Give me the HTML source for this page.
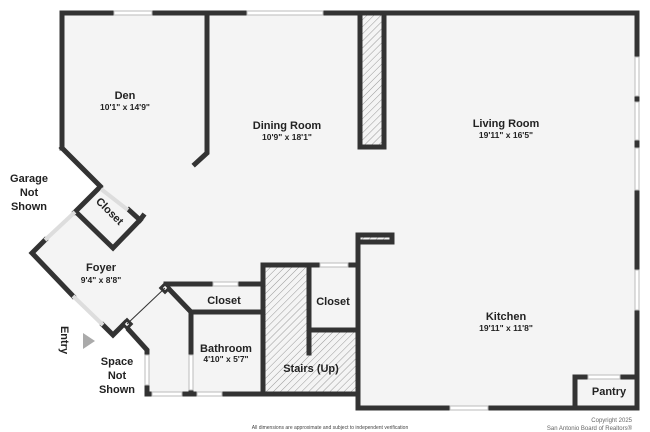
<!DOCTYPE html>
<html><head><meta charset="utf-8"><style>
html,body{margin:0;padding:0;background:#fff;}
svg{display:block;}
text{font-family:"Liberation Sans",sans-serif;fill:#222;}
.t{font-size:11px;font-weight:bold;}
.s{font-size:8.5px;font-weight:bold;}
</style></head><body>
<svg width="650" height="432" viewBox="0 0 650 432" xmlns="http://www.w3.org/2000/svg">
<defs>
<pattern id="h" width="5" height="5" patternUnits="userSpaceOnUse" patternTransform="rotate(45)">
<rect width="5" height="5" fill="#f4f4f4"/><line x1="0" y1="0" x2="0" y2="5" stroke="#999" stroke-width="1"/>
</pattern>
</defs>
<polygon points="62,13 637,13 637,408 358,408 358,394 147,394 147,350 127,327 113,335 32,253 75,212 100,187 62,148" fill="#f4f4f4"/>
<rect x="263" y="265" width="46" height="129" fill="url(#h)"/>
<rect x="309" y="330" width="49" height="64" fill="url(#h)"/>
<rect x="360" y="13" width="25" height="135" fill="url(#h)"/>
<rect x="360" y="235" width="32" height="8" fill="url(#h)"/>
<g stroke="#333" stroke-width="5" fill="none" stroke-linecap="square">
<!-- top wall -->
<polyline points="62,148 62,13 113,13"/>
<line x1="152" y1="13" x2="247" y2="13"/>
<line x1="323" y1="13" x2="637" y2="13"/>
<!-- right wall -->
<line x1="637" y1="13" x2="637" y2="57"/>
<line x1="637" y1="96" x2="637" y2="102"/>
<line x1="637" y1="140" x2="637" y2="148"/>
<line x1="637" y1="190" x2="637" y2="270"/>
<line x1="637" y1="310" x2="637" y2="408"/>
<!-- bottom -->
<polyline points="450,408 358,408 358,235 392,235 392,242 360,242"/>
<line x1="488" y1="408" x2="637" y2="408"/>
<polyline points="575,408 575,377 588,377"/>
<line x1="620" y1="377" x2="637" y2="377"/>
<!-- fireplace -->
<rect x="360" y="13" width="24" height="134"/>
<!-- den divider -->
<polyline points="207,13 207,153 195,164"/>
<!-- den diag -->
<line x1="62" y1="148" x2="100" y2="186"/>
<!-- closet -->
<polyline points="100,187 75,212"/>
<polyline points="76,212 113,248 140,220 129,210"/>
<line x1="140" y1="220" x2="143" y2="216"/>
<!-- foyer -->
<polyline points="45,240 32,253 73,296"/>
<polyline points="103,325 113,335 125,323"/>
<polyline points="129,330 147,350 147,355"/>
<line x1="147" y1="385" x2="147" y2="394"/>
<line x1="147" y1="394" x2="152" y2="394"/>
<line x1="182" y1="394" x2="197" y2="394"/>
<line x1="222" y1="394" x2="358" y2="394"/>
<!-- closet/bath -->
<polyline points="168,288 191,312 262,312"/>
<line x1="166" y1="284" x2="213" y2="284"/>
<line x1="238" y1="284" x2="262" y2="284"/>
<line x1="191" y1="312" x2="191" y2="355"/>
<line x1="191" y1="390" x2="191" y2="394"/>
<!-- stairs -->
<polyline points="263,394 263,265 309,265 320,265"/>
<line x1="348" y1="265" x2="358" y2="265"/>
<polyline points="309,265 309,353"/>
<line x1="309" y1="330" x2="358" y2="330"/>
</g>
<!-- door squares -->
<g stroke="#333" stroke-width="3" fill="#fff">
<rect x="162" y="285" width="6" height="6" transform="rotate(45 165 288)"/>
<rect x="124" y="321" width="6" height="6" transform="rotate(45 127 324)"/>
</g>
<line x1="127" y1="324" x2="165" y2="288" stroke="#333" stroke-width="1"/>
<!-- windows -->
<g fill="#fff" stroke="#bbb" stroke-width="1">
<rect x="114" y="11" width="38" height="4"/>
<rect x="247" y="11" width="76" height="4"/>
<rect x="635" y="57" width="4" height="39"/>
<rect x="635" y="102" width="4" height="38"/>
<rect x="635" y="148" width="4" height="42"/>
<rect x="635" y="270" width="4" height="40"/>
<rect x="450" y="406" width="38" height="4"/>
<rect x="152" y="392" width="30" height="4"/>
<rect x="197" y="392" width="25" height="4"/>
<rect x="145" y="355" width="4" height="30"/>
<rect x="189" y="355" width="4" height="35"/>
<rect x="213" y="282" width="25" height="4"/>
<rect x="320" y="263" width="28" height="4"/>
<rect x="588" y="375" width="32" height="4"/>
</g>
<g stroke="#ddd" stroke-width="4">
<line x1="45" y1="240" x2="75" y2="212"/>
<line x1="73" y1="296" x2="103" y2="325"/>
<line x1="101" y1="189" x2="128" y2="210"/>
</g>
<polygon points="83,333 95,341 83,349" fill="#aaa"/>
<g text-anchor="middle">
<text class="t" x="125" y="99">Den</text><text class="s" x="125" y="110">10'1" x 14'9"</text>
<text class="t" x="287" y="129">Dining Room</text><text class="s" x="287" y="140">10'9" x 18'1"</text>
<text class="t" x="506" y="127">Living Room</text><text class="s" x="506" y="138">19'11" x 16'5"</text>
<text class="t" x="506" y="320">Kitchen</text><text class="s" x="506" y="331">19'11" x 11'8"</text>
<text class="t" x="101" y="271">Foyer</text><text class="s" x="101" y="283">9'4" x 8'8"</text>
<text class="t" x="110" y="215" transform="rotate(45 110 211)">Closet</text>
<text class="t" x="224" y="304">Closet</text>
<text class="t" x="333" y="305">Closet</text>
<text class="t" x="226" y="352">Bathroom</text><text class="s" x="226" y="362">4'10" x 5'7"</text>
<text class="t" x="311" y="372">Stairs (Up)</text>
<text class="t" x="609" y="395">Pantry</text>
<text class="t" x="29" y="182">Garage</text><text class="t" x="29" y="196">Not</text><text class="t" x="29" y="210">Shown</text>
<text class="t" x="117" y="365">Space</text><text class="t" x="117" y="379">Not</text><text class="t" x="117" y="393">Shown</text>
<text class="t" x="65" y="340" transform="rotate(90 65 340)" dy="4">Entry</text>
<text x="330" y="429" style="font-size:5px;fill:#444">All dimensions are approximate and subject to independent verification</text>
</g>
<g text-anchor="end" style="font-size:6px">
<text x="632" y="422" style="fill:#666;font-size:6px">Copyright 2025</text>
<text x="632" y="430" style="fill:#666;font-size:6px">San Antonio Board of Realtors®</text>
</g>
</svg>
</body></html>
